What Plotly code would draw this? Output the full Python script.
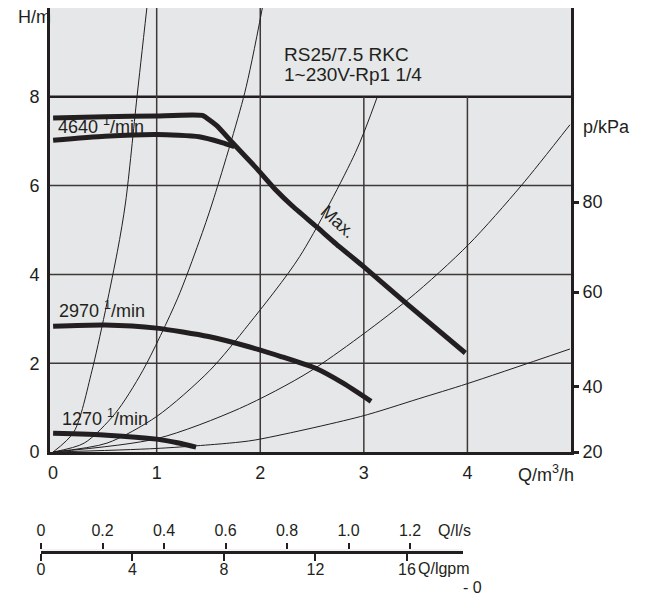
import plotly.graph_objects as go

# ---------------- data ----------------
# pump curves: flow Q [m3/h], head H [m]
q_max = [0, 0.5, 1.0, 1.44, 1.58, 1.73, 1.96, 2.15, 2.31, 2.54, 2.76, 2.97, 3.43, 3.98]
h_max = [7.52, 7.55, 7.57, 7.58, 7.35, 6.97, 6.40, 5.90, 5.54, 5.08, 4.63, 4.23, 3.31, 2.23]

q_4640 = [0, 0.5, 1.0, 1.41, 1.63, 1.75]
h_4640 = [7.02, 7.11, 7.15, 7.10, 6.97, 6.88]

q_2970 = [0, 0.5, 1.0, 1.5, 1.89, 2.2, 2.54, 2.8, 3.07]
h_2970 = [2.83, 2.86, 2.79, 2.60, 2.37, 2.15, 1.88, 1.55, 1.14]

q_1270 = [0, 0.52, 1.0, 1.2, 1.38]
h_1270 = [0.42, 0.38, 0.29, 0.21, 0.11]

# system (resistance) curves
q_sys_a = [0, 0.2, 0.375, 0.62, 0.70, 0.81, 0.905]
h_sys_a = [0, 0.45, 1.83, 4.51, 5.63, 8.0, 10.0]
q_sys_b = [0, 0.3, 0.6, 0.865, 1.2, 1.41, 1.54, 1.85, 2.02]
h_sys_b = [0, 0.2, 0.87, 1.83, 3.45, 4.74, 5.63, 8.09, 10.0]
q_sys_c = [0, 0.52, 1.0, 1.51, 1.89, 2.38, 2.92, 3.13]
h_sys_c = [0, 0.2, 0.8, 1.83, 2.88, 4.4, 6.75, 8.0]
q_sys_d = [0, 1.0, 1.8, 2.49, 3.43, 4.01, 4.52, 4.99]
h_sys_d = [0, 0.3, 0.98, 1.83, 3.44, 4.67, 6.0, 7.37]
q_sys_e = [0, 1.0, 1.7, 1.95, 2.97, 3.53, 4.0, 4.99]
h_sys_e = [0, 0.08, 0.2, 0.27, 0.8, 1.2, 1.54, 2.32]

# axes / ticks
q_ticks = [0, 1, 2, 3, 4]
h_ticks = [0, 2, 4, 6, 8]
kpa_labels = ["20", "40", "60", "80"]
kpa_pos_m = [0, 1.47, 3.6, 5.63]          # where the kPa ticks sit on the H scale
ls_ticks = [0, 0.2, 0.4, 0.6, 0.8, 1.0, 1.2]
ls_labels = ["0", "0.2", "0.4", "0.6", "0.8", "1.0", "1.2"]
gpm_ticks = [0, 4, 8, 12, 16]
gpm_labels = ["0", "4", "8", "12", "16"]

grid_h = [2, 4, 6]
header_h = 8
grid_v_full = [1, 2]
grid_v_low = [3, 4]

# ---------------- styling ----------------
INK = "#231F20"
GRID = "#3E3838"
BG = "#E6E7E8"
FONT = "Liberation Sans, Arial, sans-serif"
OFF = 8                      # page body margin of the html
W, H = 646 - OFF, 599 - OFF


def fx(p):
    return min(1.0, max(0.0, (p - OFF) / W))


def fy(p):
    return min(1.0, max(0.0, 1 - (p - OFF) / H))


fig = go.Figure()

for q, h in [(q_sys_a, h_sys_a), (q_sys_b, h_sys_b), (q_sys_c, h_sys_c),
             (q_sys_d, h_sys_d), (q_sys_e, h_sys_e)]:
    fig.add_trace(go.Scatter(x=q, y=h, mode="lines",
                             line=dict(color=INK, width=1, shape="spline", smoothing=0.8),
                             hoverinfo="skip", showlegend=False))

for q, h, shp, sm in [(q_4640, h_4640, "spline", 0.6), (q_2970, h_2970, "spline", 0.6),
                      (q_1270, h_1270, "spline", 0.6), (q_max, h_max, "spline", 0.4)]:
    fig.add_trace(go.Scatter(x=q, y=h, mode="lines",
                             line=dict(color=INK, width=5, shape=shp, smoothing=sm),
                             hoverinfo="skip", showlegend=False))

# helper traces so the extra axes are drawn
fig.add_trace(go.Scatter(x=[], y=[], yaxis="y2", showlegend=False))
fig.add_trace(go.Scatter(x=[], y=[], xaxis="x2", yaxis="y3", showlegend=False))
fig.add_trace(go.Scatter(x=[], y=[], xaxis="x3", yaxis="y3", showlegend=False))

shapes = []
for v in grid_h:
    shapes.append(dict(type="line", xref="x domain", yref="y", x0=0, x1=1, y0=v, y1=v,
                       line=dict(color=GRID, width=1.5), layer="below"))
shapes.append(dict(type="line", xref="x domain", yref="y", x0=0, x1=1, y0=header_h, y1=header_h,
                   line=dict(color=INK, width=2.5), layer="below"))
for v in grid_v_full:
    shapes.append(dict(type="line", xref="x", yref="y domain", x0=v, x1=v, y0=0, y1=1,
                       line=dict(color=GRID, width=1.5), layer="below"))
for v in grid_v_low:
    shapes.append(dict(type="line", xref="x", yref="y", x0=v, x1=v, y0=0, y1=header_h,
                       line=dict(color=GRID, width=1.5), layer="below"))

tf = dict(family=FONT, size=19, color=INK)
lf = dict(family=FONT, size=18, color=INK)
ann = []
ann.append(dict(x=0.03, y=7.36, xref="x", yref="y", text="4640 <sup>1</sup>/min", showarrow=False,
                xanchor="left", yanchor="middle", font=lf))
ann.append(dict(x=0.04, y=3.2, xref="x", yref="y", text="2970 <sup>1</sup>/min", showarrow=False,
                xanchor="left", yanchor="middle", font=lf))
ann.append(dict(x=0.07, y=0.78, xref="x", yref="y", text="1270 <sup>1</sup>/min", showarrow=False,
                xanchor="left", yanchor="middle", font=lf))
ann.append(dict(x=2.21, y=8.95, xref="x", yref="y", text="RS25/7.5 RKC", showarrow=False,
                xanchor="left", yanchor="middle", font=tf))
ann.append(dict(x=2.21, y=8.5, xref="x", yref="y", text="1~230V-Rp1 1/4", showarrow=False,
                xanchor="left", yanchor="middle", font=tf))
ann.append(dict(x=2.75, y=5.17, xref="x", yref="y", text="Max.", showarrow=False,
                textangle=42, xanchor="center", yanchor="middle", font=lf))
ann.append(dict(x=fx(53), y=fy(17), xref="paper", yref="paper", text="H/m", showarrow=False,
                xanchor="right", yanchor="middle", font=lf))
ann.append(dict(x=fx(581), y=fy(127), xref="paper", yref="paper", text="p/kPa", showarrow=False,
                xanchor="left", yanchor="middle", font=lf))
ann.append(dict(x=fx(546), y=fy(473), xref="paper", yref="paper", text="Q/m<sup>3</sup>/h",
                showarrow=False, xanchor="center", yanchor="middle", font=lf))
bf = dict(family=FONT, size=16, color=INK)
ann.append(dict(x=fx(454), y=fy(530), xref="paper", yref="paper", text="Q/l/s", showarrow=False,
                xanchor="center", yanchor="middle", font=bf))
ann.append(dict(x=fx(416), y=fy(568), xref="paper", yref="paper", text="Q/lgpm", showarrow=False,
                xanchor="left", yanchor="middle", font=bf))
ann.append(dict(x=fx(472), y=fy(587), xref="paper", yref="paper", text="- 0", showarrow=False,
                xanchor="center", yanchor="middle", font=bf))

fig.update_layout(
    width=W, height=H,
    margin=dict(l=0, r=0, t=0, b=0),
    paper_bgcolor="white",
    plot_bgcolor=BG,
    showlegend=False,
    font=dict(family=FONT, color=INK),
    shapes=shapes,
    annotations=ann,
    xaxis=dict(domain=[fx(50), fx(571)], range=[-0.03, 5.0], tickvals=q_ticks,
               ticktext=[str(v) for v in q_ticks], showgrid=False, zeroline=False,
               showline=True, mirror=True, linewidth=3, linecolor=INK, ticks="",
               tickfont=dict(family=FONT, size=18, color=INK), ticklabelstandoff=2,
               automargin=False),
    yaxis=dict(domain=[fy(452), fy(5)], range=[0, 10], tickvals=h_ticks,
               ticktext=[str(v) for v in h_ticks], showgrid=False, zeroline=False,
               showline=True, mirror=True, linewidth=3, linecolor=INK, ticks="",
               tickfont=dict(family=FONT, size=18, color=INK), ticklabelstandoff=4,
               automargin=False),
    yaxis2=dict(overlaying="y", side="right", anchor="x", range=[0, 10], tickvals=kpa_pos_m,
                ticktext=kpa_labels, showgrid=False, zeroline=False, showline=False,
                ticks="outside", ticklen=7, tickwidth=3, tickcolor=INK,
                tickfont=dict(family=FONT, size=18, color=INK), automargin=False),
    yaxis3=dict(domain=[fy(550.5), fy(549.5)], range=[0, 1], visible=False, anchor="x2"),
    xaxis2=dict(domain=[fx(41), fx(463)], anchor="y3", side="top", range=[0, 1.372],
                tickvals=ls_ticks, ticktext=ls_labels, showgrid=False, zeroline=False,
                showline=False, ticks="outside", ticklen=6, tickwidth=2, tickcolor=INK,
                tickfont=dict(family=FONT, size=16, color=INK), automargin=False),
    xaxis3=dict(overlaying="x2", anchor="y3", side="bottom", range=[0, 18.45],
                tickvals=gpm_ticks, ticktext=gpm_labels, showgrid=False, zeroline=False,
                showline=True, linewidth=3, linecolor=INK, ticks="outside", ticklen=7,
                tickwidth=2, tickcolor=INK, ticklabelstandoff=-5,
                tickfont=dict(family=FONT, size=16, color=INK), automargin=False),
)

fig.write_html("out.html")
